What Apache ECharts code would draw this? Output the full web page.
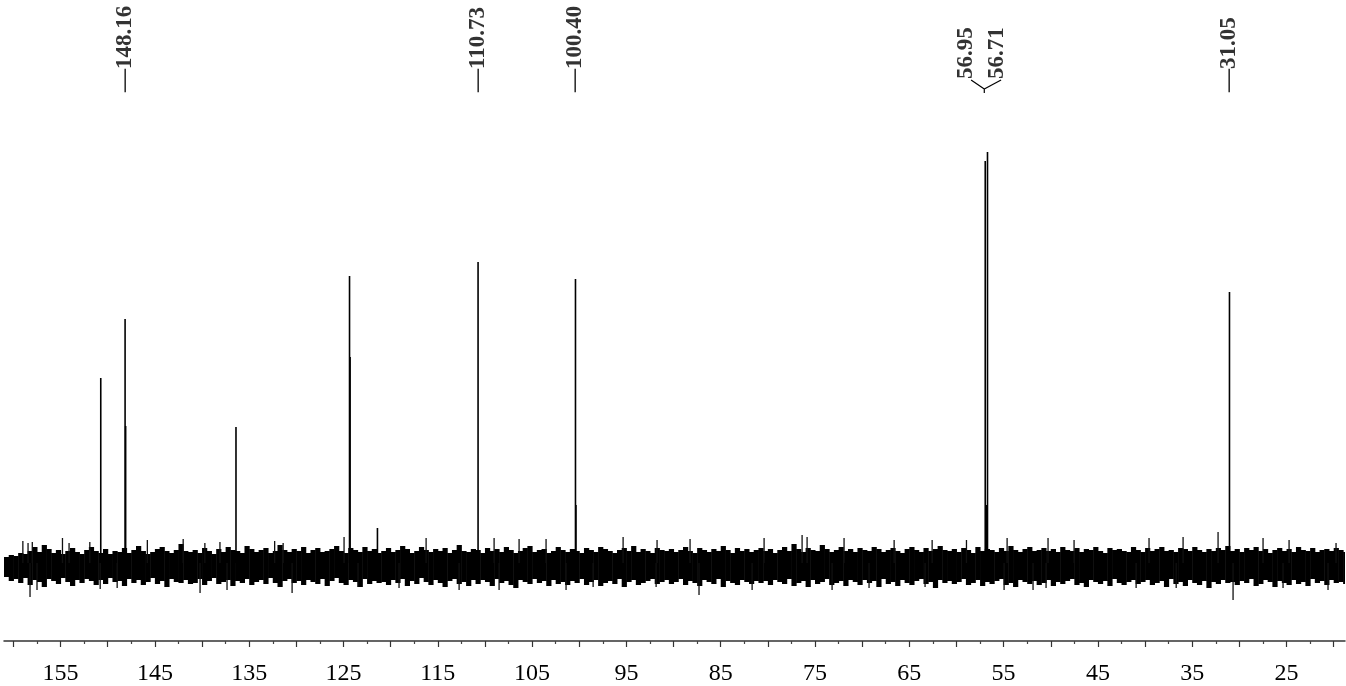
<!DOCTYPE html>
<html>
<head>
<meta charset="utf-8">
<script src="https://cdn.jsdelivr.net/npm/echarts@6/dist/echarts.min.js"></script>
<style>
html,body{margin:0;padding:0;background:#fff;}
#chart{width:1346px;height:686px;}
</style>
</head>
<body>
<div id="chart"></div>
<script>
// ---------- DATA ----------
// labelled / visible peaks: chemical shift (ppm) and intensity (arbitrary units)
const peakPpm = [150.74, 148.16, 148.10, 136.40, 124.36, 124.30, 121.40, 110.73, 100.40, 100.35, 56.95, 56.71, 56.83, 31.05];
const peakInt = [185, 244, 137, 136, 287, 206, 35, 301, 284, 58, 402, 411, 58, 271];

// peak labels at the top
const singleLabels = [148.16, 110.73, 100.40, 31.05];
const bracketLabels = [56.95, 56.71];

// axis ticks / labels (ppm)
const majorTicks = [160,155,150,145,140,135,130,125,120,115,110,105,100,95,90,85,80,75,70,65,60,55,50,45,40,35,30,25,20];
const minorTicks = [157.5,152.5,147.5,142.5,137.5,132.5,127.5,122.5,117.5,112.5,107.5,102.5,97.5,92.5,87.5,82.5,77.5,72.5,67.5,62.5,57.5,52.5,47.5,42.5,37.5,32.5,27.5,22.5];
const tickLabels = [155,145,135,125,115,105,95,85,75,65,55,45,35,25];

// baseline noise envelope, sampled every 0.5 ppm starting at 160.75 ppm
const noiseStartPpm = 160.75;
const noiseStep = 0.5;
const noiseHi = [
 6,8,7,10,9,12,16,11,18,14,10,13,9,12,15,11,9,13,16,12,
 10,14,9,12,11,15,10,13,17,12,9,11,14,16,12,10,13,19,12,11,
 13,10,15,12,9,14,11,16,13,12,10,17,14,11,13,15,10,12,18,13,
 11,14,12,16,10,13,15,11,12,14,17,12,10,15,13,11,16,12,14,10,
 12,15,11,13,17,14,10,12,16,13,11,14,12,15,10,13,18,12,11,14,
 13,10,15,12,14,11,16,13,10,12,15,17,11,13,14,10,12,16,13,11,
 14,12,10,15,13,11,16,14,12,10,13,15,12,17,11,14,12,10,15,13,
 12,14,11,13,16,12,10,15,13,11,14,12,17,13,10,15,12,14,11,13,
 15,12,14,10,13,16,12,19,14,11,15,13,12,18,14,11,13,16,12,14,
 11,15,13,12,16,14,11,13,15,12,10,14,16,13,11,15,12,14,17,13,
 12,14,11,15,13,10,16,12,14,13,11,15,12,17,13,11,14,16,12,13,
 15,12,14,11,16,13,12,15,11,14,13,16,12,10,15,13,14,12,11,16,
 13,11,15,12,14,16,12,13,11,15,14,12,16,13,11,14,12,15,13,17,
 12,14,11,15,13,16,12,14,10,13,15,12,14,11,16,13,12,15,11,13,
 14,12,15,13,11
];
const noiseLo = [
 -14,-18,-16,-20,-15,-22,-17,-19,-24,-16,-18,-21,-15,-19,-23,-17,-20,-16,-18,-22,
 -17,-21,-15,-19,-18,-23,-16,-20,-17,-22,-19,-15,-21,-18,-24,-16,-19,-20,-17,-21,
 -20,-16,-22,-18,-15,-21,-19,-17,-23,-18,-20,-16,-22,-19,-17,-21,-15,-20,-24,-18,
 -16,-20,-18,-22,-17,-19,-21,-16,-23,-18,-15,-20,-22,-17,-19,-24,-16,-21,-18,-20,
 -19,-22,-17,-20,-16,-23,-18,-21,-15,-19,-22,-17,-20,-24,-18,-16,-21,-19,-23,-17,
 -21,-17,-19,-23,-16,-20,-18,-22,-25,-17,-19,-21,-16,-20,-18,-23,-17,-21,-19,-22,
 -18,-20,-16,-22,-19,-17,-23,-20,-18,-21,-16,-24,-19,-17,-22,-20,-18,-16,-21,-19,
 -17,-21,-19,-16,-22,-18,-20,-23,-17,-19,-21,-16,-24,-18,-20,-22,-17,-19,-21,-18,
 -20,-18,-22,-17,-19,-21,-16,-23,-20,-18,-24,-17,-21,-19,-16,-22,-20,-18,-23,-17,
 -19,-22,-17,-20,-18,-24,-16,-21,-19,-23,-17,-20,-22,-18,-16,-21,-19,-25,-17,-20,
 -18,-21,-19,-16,-22,-20,-17,-23,-19,-21,-18,-16,-22,-20,-24,-17,-19,-21,-18,-22,
 -20,-17,-23,-19,-21,-18,-16,-22,-20,-24,-17,-19,-21,-18,-23,-16,-20,-22,-19,-17,
 -21,-19,-17,-22,-20,-18,-24,-16,-21,-19,-23,-17,-20,-22,-18,-25,-19,-21,-17,-20,
 -19,-22,-18,-20,-16,-23,-21,-17,-19,-24,-18,-20,-22,-17,-21,-19,-23,-16,-20,-18,
 -22,-17,-20,-19,-21
];
// isolated noise spikes above and below the band
const spikeUpPpm = [159.0,158.45,158.0,154.8,154.1,151.9,145.8,142.0,139.7,138.1,132.3,131.4,124.94,116.24,109.03,106.38,103.52,95.35,91.75,88.25,80.40,76.37,75.84,71.92,66.61,62.58,58.94,54.63,50.29,47.53,39.58,35.97,32.26,27.49,24.73,19.75];
const spikeUpVal = [22,20,21,25,20,21,23,24,20,21,22,20,26,25,25,24,24,26,23,24,25,28,26,25,23,23,23,25,25,23,25,26,31,25,23,20];
const spikeDnPpm = [158.24,157.5,150.8,149.0,140.21,137.35,130.45,123.46,119.11,112.74,108.5,101.4,98.53,91.85,87.3,81.67,73.19,69.27,63.33,54.95,51.88,50.5,40.95,36.7,30.67,25.37,20.6];
const spikeDnVal = [-34,-27,-26,-25,-30,-27,-30,-24,-25,-27,-27,-27,-24,-24,-32,-27,-27,-25,-24,-27,-27,-25,-25,-25,-37,-25,-27];

// ---------- CHART ----------
const X_MIN = 18.8, X_MAX = 161.0;
const SERIF = "'Liberation Serif','DejaVu Serif',serif";

const noiseData = noiseHi.map((h, i) => [noiseStartPpm - i * noiseStep, h, noiseLo[i]]);

const chart = echarts.init(document.getElementById('chart'), null, {renderer: 'canvas'});

function vline(color, width) {
  return function (params, api) {
    const p0 = api.coord([api.value(0), 0]);
    const p1 = api.coord([api.value(0), api.value(1)]);
    return {type: 'line', shape: {x1: p0[0], y1: p0[1], x2: p1[0], y2: p1[1]},
            style: {stroke: color, lineWidth: width}};
  };
}

const option = {
  animation: false,
  backgroundColor: '#fff',
  grid: {left: 4, right: 1, top: 0, bottom: 45, containLabel: false},
  xAxis: [{
    type: 'value', min: X_MIN, max: X_MAX, inverse: true, position: 'bottom',
    axisLine: {show: true, onZero: false, lineStyle: {color: '#333', width: 1.5}},
    axisTick: {show: true, customValues: majorTicks, length: 6, lineStyle: {color: '#333', width: 1.2}},
    axisLabel: {show: true, customValues: tickLabels, fontFamily: SERIF, fontSize: 24, color: '#000', margin: 21},
    splitLine: {show: false}
  }, {
    type: 'value', min: X_MIN, max: X_MAX, inverse: true, position: 'bottom',
    axisLine: {show: false, onZero: false},
    axisTick: {show: true, customValues: minorTicks, length: 3, lineStyle: {color: '#444', width: 1.2}},
    axisLabel: {show: false},
    splitLine: {show: false}
  }],
  yAxis: {type: 'value', min: -78, max: 563, show: false, splitLine: {show: false}},
  series: [
    { // noise band
      type: 'custom', clip: true, silent: true,
      data: noiseData,
      renderItem: function (params, api) {
        const ppm = api.value(0);
        const a = api.coord([ppm + noiseStep / 2, api.value(1)]);
        const b = api.coord([ppm - noiseStep / 2, api.value(2)]);
        return {type: 'rect', shape: {x: a[0], y: a[1], width: b[0] - a[0] + 0.5, height: b[1] - a[1]},
                style: {fill: '#000'}};
      }
    },
    { // spikes up
      type: 'custom', clip: true, silent: true,
      data: spikeUpPpm.map((p, i) => [p, spikeUpVal[i]]),
      renderItem: vline('#111', 1.3)
    },
    { // spikes down
      type: 'custom', clip: true, silent: true,
      data: spikeDnPpm.map((p, i) => [p, spikeDnVal[i]]),
      renderItem: vline('#111', 1.3)
    },
    { // peaks
      type: 'custom', clip: true, silent: true,
      data: peakPpm.map((p, i) => [p, peakInt[i]]),
      renderItem: vline('#000', 1.6)
    },
    { // single peak labels
      type: 'scatter', symbolSize: 0, silent: true,
      data: singleLabels.map(p => ({value: [p, 471], name: p.toFixed(2)})),
      label: {
        show: true, position: 'inside', rotate: 90, align: 'left', verticalAlign: 'middle',
        formatter: p => '\u2014' + p.name,
        fontFamily: SERIF, fontWeight: 'bold', fontSize: 23, color: '#000'
      }
    },
    { // bracketed labels (text spread apart)
      type: 'scatter', symbolSize: 0, silent: true,
      data: bracketLabels.map((p, i) => ({value: [[58.98, 55.69][i], 484], name: p.toFixed(2)})),
      label: {
        show: true, position: 'inside', rotate: 90, align: 'left', verticalAlign: 'middle',
        formatter: p => p.name,
        fontFamily: SERIF, fontWeight: 'bold', fontSize: 23, color: '#000'
      }
    },
    { // bracket lines
      type: 'line', silent: true, symbol: 'none',
      data: [[58.45, 483], [57.05, 474], [57.05, 470]],
      lineStyle: {color: '#000', width: 1.2}
    },
    {
      type: 'line', silent: true, symbol: 'none',
      data: [[55.27, 483], [57.05, 474]],
      lineStyle: {color: '#000', width: 1.2}
    }
  ]
};
chart.setOption(option);
</script>
</body>
</html>
